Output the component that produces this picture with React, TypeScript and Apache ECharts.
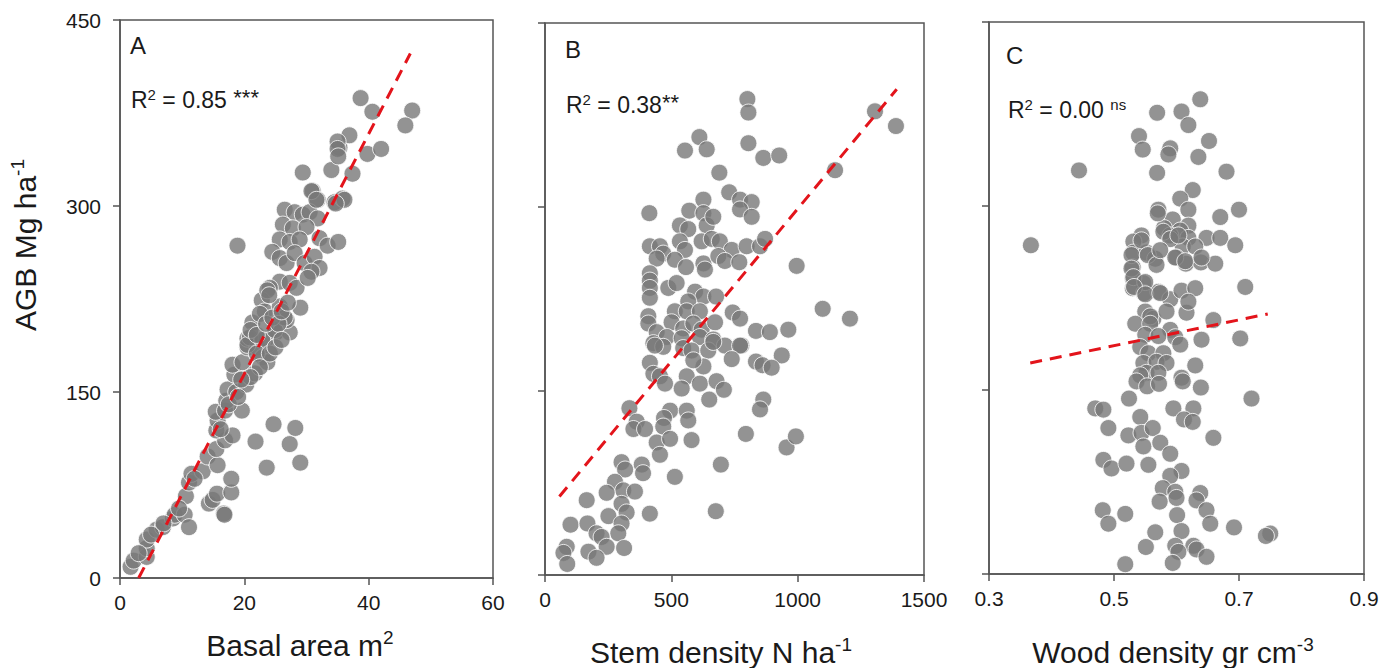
import React, { useEffect, useRef } from "react";
import * as echarts from "echarts";

const FONT = '"Liberation Sans", Arial, Helvetica, sans-serif';
const TXT = "#1a1a1a";

// Panel A: basal area (m2) vs AGB (Mg/ha)
const basalArea: number[][] = [
  [1.7, 9], [2.2, 14], [4.3, 17], [4.3, 24], [4.3, 31], [5.9, 39], [6.9, 41], [8.5, 48], [8.8, 51], [10.4, 51],
  [11.1, 41], [10.6, 66], [11.1, 77], [11.5, 84], [13.3, 86], [14.1, 98], [15.7, 91], [15.5, 104], [16.9, 111], [18.1, 115],
  [15.5, 119], [15.7, 127], [15.4, 134], [16.9, 135], [19.6, 135], [17.1, 143], [17.3, 152], [18.7, 150], [20.3, 156], [18.4, 164],
  [18.1, 172], [19.7, 174], [20.5, 186], [20.5, 193], [22.1, 186], [23, 178], [23.7, 174], [21.7, 165], [23.6, 193], [25.1, 198],
  [27.3, 198], [14.3, 60], [14.9, 63], [15.6, 68], [16.7, 52], [16.8, 51], [17.9, 69], [17.9, 80], [21.8, 110], [23.6, 89],
  [24.7, 124], [27.3, 108], [28.2, 121], [29.0, 93], [18.9, 268], [29.4, 327], [34.0, 329], [35.3, 347], [37.4, 326], [31.0, 312],
  [31.8, 305], [34.5, 303], [35.8, 306], [26.5, 297], [28.1, 295], [29.4, 293], [30.5, 295], [31.8, 290], [26.2, 285], [27.8, 282],
  [30, 283], [25.7, 273], [27.3, 271], [28.9, 273], [32.1, 274], [33.4, 268], [35.1, 271], [24.5, 263], [25.7, 258], [26.8, 254],
  [28.1, 262], [29.7, 254], [31.3, 259], [32.1, 250], [30.8, 247], [25.7, 239], [24.1, 234], [27.3, 238], [28.4, 234], [30.2, 242],
  [29.0, 218], [22.8, 224], [23.7, 232], [23.3, 215], [25.7, 219], [26.8, 208], [21.3, 206], [22.5, 213], [20.9, 194], [20.5, 188],
  [22.9, 192], [24.9, 200], [26.5, 210], [22, 181], [24.1, 181], [38.7, 387], [40.6, 376], [47.0, 377], [45.9, 365], [36.9, 357],
  [35.0, 352], [35.0, 346], [35.1, 340], [39.8, 342], [42.0, 346], [30.8, 312], [31.6, 305], [36.1, 305], [34.7, 302], [21, 200],
  [22, 196], [23.5, 205], [24.5, 210], [25.5, 205], [26, 215], [27, 222], [24, 228], [22.5, 170], [21, 162], [19.5, 160],
  [25, 186], [26, 192], [17.5, 140], [16.2, 120], [19, 146], [12, 80], [9.5, 56], [7, 44], [5, 35], [3, 20],
];

// Panel B: stem density (N/ha) vs AGB
const stemDensity: number[][] = [
  [801, 388], [805, 377], [611, 357], [554, 346], [640, 347], [805, 352], [864, 340], [927, 342], [1306, 378], [1389, 366],
  [1148, 330], [690, 328], [729, 312], [772, 306], [818, 304], [772, 298], [818, 292], [413, 295], [627, 306], [571, 297],
  [627, 295], [534, 285], [567, 282], [640, 285], [666, 292], [415, 268], [455, 268], [468, 262], [534, 272], [554, 265],
  [620, 272], [660, 274], [692, 272], [739, 265], [798, 268], [851, 268], [871, 274], [442, 258], [514, 257], [558, 251],
  [627, 254], [686, 260], [712, 256], [769, 255], [633, 249], [996, 252], [415, 246], [415, 240], [415, 234], [415, 226],
  [488, 234], [521, 238], [594, 231], [627, 227], [677, 227], [567, 223], [514, 215], [561, 215], [613, 215], [743, 214],
  [772, 209], [1099, 217], [1207, 209], [409, 211], [409, 205], [501, 206], [547, 201], [587, 205], [620, 200], [673, 206],
  [442, 198], [482, 194], [541, 193], [613, 194], [666, 192], [835, 199], [890, 198], [963, 200], [429, 189], [468, 186],
  [547, 185], [580, 183], [646, 183], [712, 187], [777, 187], [937, 179], [435, 187], [666, 190], [772, 187], [739, 176],
  [835, 174], [861, 171], [897, 169], [627, 170], [587, 175], [415, 173], [429, 164], [455, 162], [475, 156], [561, 162],
  [541, 152], [613, 156], [679, 158], [708, 151], [650, 143], [864, 143], [851, 135], [334, 136], [363, 125], [350, 119],
  [396, 119], [495, 134], [471, 128], [468, 121], [561, 134], [567, 126], [442, 108], [495, 111], [580, 110], [455, 98],
  [795, 115], [956, 104], [993, 113], [696, 90], [514, 80], [303, 92], [317, 86], [383, 90], [388, 83], [277, 76],
  [310, 69], [356, 68], [244, 67], [165, 61], [303, 58], [323, 51], [251, 48], [415, 50], [676, 52], [303, 42],
  [290, 34], [101, 41], [168, 42], [204, 34], [224, 31], [244, 23], [313, 22], [172, 19], [204, 14], [86, 23],
  [73, 18], [88, 9],
];

// Panel C: wood density (g/cm3) vs AGB
const woodDensity: number[][] = [
  [0.638, 387], [0.569, 376], [0.608, 377], [0.619, 366], [0.540, 357], [0.546, 346], [0.590, 347], [0.587, 342], [0.635, 340], [0.652, 353],
  [0.444, 329], [0.569, 327], [0.680, 328], [0.626, 313], [0.606, 306], [0.619, 297], [0.571, 297], [0.670, 291], [0.700, 297], [0.367, 268],
  [0.594, 289], [0.619, 284], [0.606, 280], [0.580, 282], [0.544, 276], [0.531, 271], [0.590, 276], [0.619, 274], [0.648, 274], [0.670, 274],
  [0.694, 268], [0.610, 267], [0.630, 267], [0.531, 262], [0.552, 262], [0.566, 257], [0.600, 258], [0.615, 253], [0.639, 254], [0.662, 253],
  [0.530, 250], [0.530, 241], [0.547, 237], [0.530, 233], [0.548, 229], [0.571, 230], [0.590, 224], [0.608, 231], [0.630, 233], [0.710, 234],
  [0.616, 213], [0.659, 207], [0.550, 214], [0.563, 208], [0.584, 214], [0.570, 294], [0.544, 272], [0.579, 279], [0.590, 273], [0.603, 276],
  [0.528, 260], [0.554, 260], [0.568, 252], [0.574, 264], [0.598, 258], [0.614, 255], [0.640, 258], [0.528, 249], [0.531, 242], [0.550, 238],
  [0.532, 234], [0.550, 228], [0.574, 229], [0.619, 222], [0.558, 210], [0.534, 204], [0.558, 204], [0.590, 199], [0.550, 195], [0.571, 194],
  [0.598, 193], [0.640, 191], [0.702, 192], [0.542, 185], [0.555, 180], [0.579, 180], [0.606, 187], [0.547, 172], [0.568, 173], [0.584, 172],
  [0.630, 170], [0.552, 164], [0.571, 164], [0.608, 160], [0.542, 162], [0.536, 157], [0.553, 153], [0.572, 155], [0.610, 157], [0.639, 152],
  [0.720, 143], [0.524, 143], [0.470, 135], [0.483, 134], [0.595, 135], [0.627, 135], [0.542, 128], [0.612, 126], [0.626, 124], [0.491, 119],
  [0.523, 113], [0.544, 115], [0.562, 119], [0.547, 104], [0.574, 107], [0.659, 111], [0.590, 98], [0.483, 93], [0.496, 86], [0.520, 90],
  [0.555, 89], [0.608, 84], [0.590, 80], [0.578, 70], [0.598, 67], [0.638, 66], [0.600, 62], [0.573, 59], [0.632, 60], [0.648, 52],
  [0.482, 52], [0.518, 49], [0.601, 48], [0.491, 41], [0.654, 41], [0.692, 38], [0.750, 33], [0.743, 31], [0.566, 34], [0.608, 35],
  [0.551, 22], [0.598, 23], [0.627, 23], [0.603, 18], [0.632, 20], [0.648, 14], [0.518, 8], [0.594, 9],
];

// Regression lines (end points)
const fitA: number[][] = [[3.0, 0], [46.7, 423]];
const fitB: number[][] = [[57, 64], [1392, 396]];
const fitC: number[][] = [[0.366, 172], [0.746, 212]];

const yTicks = { min: 0, max: 450, interval: 150 };
const xRanges = [
  { min: 0, max: 60, interval: 20, offset: 0, digits: 0 },
  { min: 0, max: 1500, interval: 500, offset: 0, digits: 0 },
  { min: 0, max: 0.6, interval: 0.2, offset: 0.3, digits: 1 }, // wood density axis 0.3 - 0.9
];

const AXIS_COLOR = "#555";

function buildOption() {
  const grids = [
    { left: 120, top: 20, width: 373, height: 558 },
    { left: 545, top: 23, width: 379, height: 552 },
    { left: 989, top: 22, width: 375, height: 552 },
  ].map((g) => ({ ...g, show: true, borderColor: AXIS_COLOR, borderWidth: 1.5, backgroundColor: "transparent" }));

  const xAxis = xRanges.map((r, i) => ({
    type: "value",
    gridIndex: i,
    min: r.min,
    max: r.max,
    interval: r.interval,
    axisLine: { show: true, onZero: false, lineStyle: { color: AXIS_COLOR, width: 1.5 } },
    axisTick: { show: true, inside: false, length: 7, lineStyle: { color: AXIS_COLOR, width: 1.5 } },
    splitLine: { show: false },
    axisLabel: {
      fontSize: 21,
      fontFamily: FONT,
      color: TXT,
      margin: 14,
      formatter: (v: number) => (v + r.offset).toFixed(r.digits),
    },
  }));

  const yAxis = [0, 1, 2].map((i) => ({
    type: "value",
    gridIndex: i,
    min: yTicks.min,
    max: yTicks.max,
    interval: yTicks.interval,
    axisLine: { show: true, onZero: false, lineStyle: { color: AXIS_COLOR, width: 1.5 } },
    axisTick: { show: true, inside: false, length: 7, lineStyle: { color: AXIS_COLOR, width: 1.5 } },
    splitLine: { show: false },
    axisLabel: { show: i === 0, fontSize: 21, fontFamily: FONT, color: TXT, margin: 19 },
  }));

  const scatterStyle = { color: "#787878", borderColor: "#ffffff", borderWidth: 1 };
  const lineStyle = { color: "#e3141b", width: 3, type: [12, 8] as number[] };

  const datasets = [
    { pts: basalArea, fit: fitA, off: 0 },
    { pts: stemDensity, fit: fitB, off: 0 },
    { pts: woodDensity, fit: fitC, off: 0.3 },
  ];

  const series: any[] = [];
  datasets.forEach((d, i) => {
    series.push({
      type: "scatter",
      xAxisIndex: i,
      yAxisIndex: i,
      symbol: "circle",
      symbolSize: 17,
      itemStyle: scatterStyle,
      data: d.pts.map((p) => [p[0] - d.off, p[1]]),
      z: 2,
    });
  });
  datasets.forEach((d, i) => {
    series.push({
      type: "line",
      xAxisIndex: i,
      yAxisIndex: i,
      showSymbol: false,
      symbol: "none",
      lineStyle,
      data: d.fit.map((p) => [p[0] - d.off, p[1]]),
      z: 5,
    });
  });

  const big = { fontSize: 30, lineHeight: 34, fontFamily: FONT, color: TXT };
  const bigSup = { fontSize: 19, lineHeight: 20, fontFamily: FONT, color: TXT, verticalAlign: "top" };
  const mid = { fontSize: 23, lineHeight: 27, fontFamily: FONT, color: TXT };
  const midSup = { fontSize: 15, lineHeight: 15, fontFamily: FONT, color: TXT, verticalAlign: "top" };
  const midStar = { fontSize: 22, lineHeight: 22, fontFamily: FONT, color: TXT, verticalAlign: "top" };

  const txt = (x: number, y: number, text: string, rich: any, align = "center", rotation = 0) => ({
    type: "text",
    x,
    y,
    rotation,
    z: 10,
    style: {
      text,
      rich,
      align,
      textAlign: align,
      verticalAlign: "middle",
      textVerticalAlign: "middle",
      fill: TXT,
      font: `22px ${FONT}`,
    },
  });

  const richBig = { n: big, s: bigSup };
  const richMid = { n: mid, s: midSup, a: midStar };
  const richLetter = { n: { ...mid, fontSize: 24, lineHeight: 28 } };

  const graphic = [
    txt(25, 245, "{n|AGB Mg ha}{s|-1}", richBig, "center", Math.PI / 2),
    txt(300, 645, "{n|Basal area m}{s|2}", richBig),
    txt(721, 652, "{n|Stem density N ha}{s|-1}", richBig),
    txt(1173, 652, "{n|Wood density gr cm}{s|-3}", richBig),
    txt(130, 45, "{n|A}", richLetter, "left"),
    txt(565, 49, "{n|B}", richLetter, "left"),
    txt(1006, 55, "{n|C}", richLetter, "left"),
    txt(131, 100, "{n|R}{s|2}{n| = 0.85 }{a|***}", richMid, "left"),
    txt(566, 105, "{n|R}{s|2}{n| = 0.38}{a|**}", richMid, "left"),
    txt(1008, 110, "{n|R}{s|2}{n| = 0.00 }{s|ns}", richMid, "left"),
  ];

  return {
    animation: false,
    backgroundColor: "#ffffff",
    grid: grids,
    xAxis,
    yAxis,
    series,
    graphic,
  };
}

export default function App() {
  const ref = useRef<HTMLDivElement>(null);
  useEffect(() => {
    document.body.style.margin = "0";
    if (!ref.current) return;
    const chart = echarts.init(ref.current, null, { renderer: "svg" });
    chart.setOption(buildOption() as any);
    return () => chart.dispose();
  }, []);
  return <div ref={ref} style={{ width: 1393, height: 668 }} />;
}
